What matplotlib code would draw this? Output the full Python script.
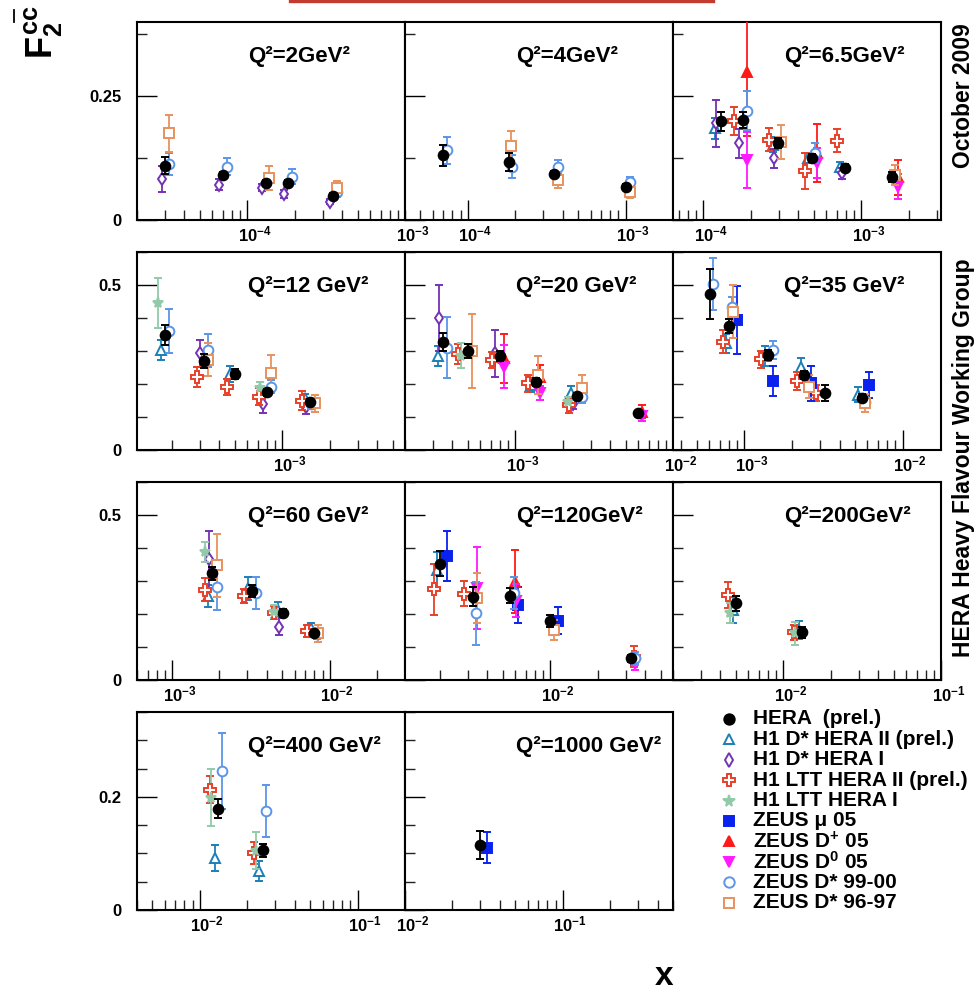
import numpy as np
import matplotlib
matplotlib.use("Agg")
import matplotlib.pyplot as plt
from matplotlib.ticker import LogLocator, MultipleLocator, NullFormatter, FuncFormatter
from matplotlib.lines import Line2D

plt.rcParams["font.family"] = ["Liberation Sans", "DejaVu Sans"]
plt.rcParams["font.weight"] = "bold"
plt.rcParams["mathtext.fontset"] = "custom"
plt.rcParams["mathtext.rm"] = "Liberation Sans:bold"
plt.rcParams["mathtext.it"] = "Liberation Sans:bold"
plt.rcParams["mathtext.bf"] = "Liberation Sans:bold"
plt.rcParams["mathtext.sf"] = "Liberation Sans:bold"

# ---------------------------------------------------------------- bins / axes
Q2_BINS = [2, 4, 6.5, 12, 20, 35, 60, 120, 200, 400, 1000]
Q2_LABELS = ["Q²=2GeV²", "Q²=4GeV²", "Q²=6.5GeV²", "Q²=12 GeV²", "Q²=20 GeV²",
             "Q²=35 GeV²", "Q²=60 GeV²", "Q²=120GeV²", "Q²=200GeV²",
             "Q²=400 GeV²", "Q²=1000 GeV²"]
X_RANGES = [(2e-5, 1e-3), (4e-5, 2e-3), (6.45e-5, 3.2e-3),
            (1.2e-4, 6e-3), (2e-4, 1e-2), (3.55e-4, 1.75e-2),
            (6e-4, 3e-2), (1.2e-3, 6e-2), (2e-3, 1e-1),
            (4e-3, 2e-1), (1e-2, 5e-1)]
Y_MAX_ROW = [0.4, 0.6, 0.6, 0.35]
Y_MAJOR_ROW = [0.25, 0.5, 0.5, 0.2]
Y_MINOR_ROW = [0.125, 0.1, 0.1, 0.05]

# ---------------------------------------------------------------- data (x, F2cc, error)
HERA = {
    2: [(3.0e-5, 0.110, 0.017), (7.05e-5, 0.0915, 0.006), (1.31e-4, 0.074, 0.006),
        (1.82e-4, 0.074, 0.006), (3.52e-4, 0.049, 0.005)],
    4: [(7.0e-5, 0.131, 0.021), (1.82e-4, 0.117, 0.018), (3.54e-4, 0.092, 0.006),
        (1.0e-3, 0.067, 0.005)],
    6.5: [(1.29e-4, 0.199, 0.020), (1.78e-4, 0.202, 0.017), (2.96e-4, 0.156, 0.010),
          (4.92e-4, 0.125, 0.008), (7.85e-4, 0.106, 0.007), (1.57e-3, 0.086, 0.010)],
    12: [(1.81e-4, 0.348, 0.030), (3.21e-4, 0.270, 0.020), (5.0e-4, 0.230, 0.015),
         (8.0e-4, 0.175, 0.010), (1.49e-3, 0.145, 0.010)],
    20: [(3.5e-4, 0.328, 0.028), (5.0e-4, 0.300, 0.020), (8.0e-4, 0.285, 0.015),
         (1.35e-3, 0.205, 0.012), (2.48e-3, 0.164, 0.010), (6.0e-3, 0.111, 0.008)],
    35: [(6.07e-4, 0.473, 0.076), (8.04e-4, 0.376, 0.020), (1.42e-3, 0.288, 0.015),
         (2.4e-3, 0.227, 0.012), (3.25e-3, 0.172, 0.024), (5.55e-3, 0.159, 0.010)],
    60: [(1.80e-3, 0.323, 0.020), (3.23e-3, 0.271, 0.018), (5.03e-3, 0.204, 0.010),
         (7.98e-3, 0.141, 0.008)],
    120: [(2.0e-3, 0.352, 0.038), (3.22e-3, 0.253, 0.030), (5.53e-3, 0.255, 0.023),
          (1.0e-2, 0.180, 0.018), (3.26e-2, 0.066, 0.010)],
    200: [(5.05e-3, 0.232, 0.022), (1.32e-2, 0.144, 0.018)],
    400: [(1.31e-2, 0.179, 0.017), (2.53e-2, 0.1055, 0.012)],
    1000: [(2.99e-2, 0.115, 0.024)],
}

H1_DSTAR_HERA2 = {
    6.5: [(1.19e-4, 0.185, 0.022), (2.75e-4, 0.152, 0.015), (4.63e-4, 0.125, 0.010),
          (7.36e-4, 0.108, 0.010)],
    12: [(1.70e-4, 0.303, 0.031), (4.69e-4, 0.230, 0.025), (1.40e-3, 0.157, 0.012)],
    20: [(3.25e-4, 0.285, 0.030), (1.26e-3, 0.197, 0.020), (2.25e-3, 0.174, 0.020)],
    35: [(7.66e-4, 0.323, 0.030), (1.35e-3, 0.285, 0.030), (2.28e-3, 0.2505, 0.028),
         (5.24e-3, 0.167, 0.023)],
    60: [(1.70e-3, 0.2545, 0.033), (3.05e-3, 0.278, 0.035), (4.72e-3, 0.212, 0.025),
         (7.57e-3, 0.157, 0.015)],
    120: [(1.92e-3, 0.333, 0.054)],
    200: [(4.79e-3, 0.212, 0.040), (1.25e-2, 0.1515, 0.027)],
    400: [(1.25e-2, 0.0925, 0.023), (2.39e-2, 0.069, 0.018)],
}

H1_DSTAR_HERA1 = {
    2: [(2.87e-5, 0.083, 0.027), (6.65e-5, 0.071, 0.011), (1.24e-4, 0.065, 0.007),
        (1.71e-4, 0.0525, 0.009), (3.35e-4, 0.037, 0.005)],
    6.5: [(1.20e-4, 0.195, 0.047), (1.68e-4, 0.155, 0.029), (2.81e-4, 0.125, 0.019),
          (7.55e-4, 0.094, 0.012)],
    12: [(3.03e-4, 0.293, 0.040), (7.55e-4, 0.139, 0.026), (1.42e-3, 0.131, 0.023)],
    20: [(3.30e-4, 0.399, 0.100), (7.45e-4, 0.293, 0.072), (2.34e-3, 0.139, 0.015)],
    60: [(1.72e-3, 0.366, 0.087), (4.79e-3, 0.162, 0.025)],
    120: [(3.4e-2, 0.060, 0.015)],
}

H1_LTT_HERA2 = {
    6.5: [(1.57e-4, 0.200, 0.028), (2.62e-4, 0.162, 0.023), (4.42e-4, 0.099, 0.037),
          (7.0e-4, 0.160, 0.023)],
    12: [(2.89e-4, 0.222, 0.030), (4.47e-4, 0.192, 0.024), (7.13e-4, 0.162, 0.027),
         (1.34e-3, 0.150, 0.028)],
    20: [(4.32e-4, 0.291, 0.030), (7.16e-4, 0.273, 0.025), (1.2e-3, 0.202, 0.025),
         (2.2e-3, 0.136, 0.024)],
    35: [(7.3e-4, 0.328, 0.035), (1.27e-3, 0.275, 0.026), (2.15e-3, 0.209, 0.028),
         (2.85e-3, 0.174, 0.024)],
    60: [(1.62e-3, 0.273, 0.035), (2.87e-3, 0.2545, 0.020), (4.44e-3, 0.204, 0.020),
         (7.14e-3, 0.1495, 0.018)],
    120: [(1.82e-3, 0.275, 0.077), (2.85e-3, 0.261, 0.038), (3.4e-2, 0.071, 0.031)],
    200: [(4.46e-3, 0.258, 0.040), (1.17e-2, 0.144, 0.023)],
    400: [(1.16e-2, 0.213, 0.024), (2.21e-2, 0.101, 0.020)],
}

H1_LTT_HERA1 = {
    12: [(1.62e-4, 0.4465, 0.076), (7.26e-4, 0.187, 0.020)],
    20: [(4.53e-4, 0.285, 0.038), (2.17e-3, 0.146, 0.015)],
    60: [(1.62e-3, 0.389, 0.030), (4.44e-3, 0.207, 0.020)],
    200: [(4.6e-3, 0.202, 0.030), (1.19e-2, 0.141, 0.035)],
    400: [(1.17e-2, 0.1986, 0.050), (2.26e-2, 0.105, 0.032)],
}

ZEUS_MU05 = {
    35: [(8.95e-4, 0.394, 0.102), (1.53e-3, 0.209, 0.045), (2.64e-3, 0.202, 0.053),
         (6.12e-3, 0.197, 0.040)],
    120: [(2.2e-3, 0.376, 0.077), (6.2e-3, 0.227, 0.054), (1.12e-2, 0.180, 0.040)],
    1000: [(3.33e-2, 0.110, 0.027)],
}

ZEUS_DPLUS05 = {
    6.5: [(1.90e-4, 0.300, 0.130), (5.24e-4, 0.135, 0.058), (1.70e-3, 0.086, 0.035)],
    20: [(8.49e-4, 0.278, 0.074), (1.44e-3, 0.222, 0.035), (6.4e-3, 0.116, 0.020)],
    120: [(6.0e-3, 0.298, 0.096)],
}

ZEUS_DZERO05 = {
    6.5: [(1.90e-4, 0.121, 0.056), (5.24e-4, 0.115, 0.030), (1.70e-3, 0.067, 0.025)],
    20: [(8.49e-4, 0.2525, 0.065), (1.44e-3, 0.172, 0.021), (6.4e-3, 0.104, 0.015)],
    120: [(3.44e-3, 0.278, 0.124), (6.07e-3, 0.240, 0.050), (3.44e-2, 0.050, 0.020)],
}

ZEUS_DSTAR9900 = {
    2: [(3.19e-5, 0.113, 0.023), (7.41e-5, 0.108, 0.018), (1.91e-4, 0.0875, 0.015),
        (3.69e-4, 0.057, 0.010)],
    4: [(7.4e-5, 0.141, 0.027), (1.92e-4, 0.108, 0.024), (3.73e-4, 0.108, 0.013),
        (1.07e-3, 0.077, 0.010)],
    6.5: [(1.90e-4, 0.221, 0.040), (5.12e-4, 0.135, 0.020), (1.6e-3, 0.089, 0.010)],
    12: [(1.92e-4, 0.361, 0.066), (3.37e-4, 0.303, 0.050), (8.5e-4, 0.192, 0.020),
         (1.52e-3, 0.139, 0.015)],
    20: [(3.71e-4, 0.310, 0.093), (2.64e-3, 0.162, 0.020)],
    35: [(6.37e-4, 0.503, 0.080), (8.43e-4, 0.434, 0.030), (1.51e-3, 0.303, 0.028),
         (5.83e-3, 0.146, 0.015)],
    60: [(1.92e-3, 0.281, 0.070), (3.4e-3, 0.263, 0.048), (8.27e-3, 0.138, 0.015)],
    120: [(3.39e-3, 0.202, 0.096), (5.9e-3, 0.263, 0.048), (3.44e-2, 0.066, 0.020)],
    400: [(1.38e-2, 0.2457, 0.068), (2.63e-2, 0.175, 0.046)],
}

ZEUS_DSTAR9697 = {
    2: [(3.19e-5, 0.175, 0.037), (1.38e-4, 0.0855, 0.024), (3.69e-4, 0.064, 0.015)],
    4: [(1.89e-4, 0.150, 0.030), (3.73e-4, 0.081, 0.016), (1.07e-3, 0.057, 0.012)],
    6.5: [(3.1e-4, 0.158, 0.034), (1.64e-3, 0.091, 0.020)],
    12: [(3.37e-4, 0.273, 0.050), (8.5e-4, 0.234, 0.053), (1.61e-3, 0.141, 0.025)],
    20: [(5.3e-4, 0.301, 0.112), (1.40e-3, 0.227, 0.058), (2.64e-3, 0.187, 0.039)],
    35: [(8.53e-4, 0.419, 0.080), (2.55e-3, 0.192, 0.034), (5.83e-3, 0.143, 0.028)],
    60: [(1.92e-3, 0.348, 0.095), (8.47e-3, 0.141, 0.026)],
    120: [(3.44e-3, 0.2475, 0.076), (1.06e-2, 0.1515, 0.030)],
}

# name, data, marker, colour, filled, marker size
SERIES = [
    ("H1 D* HERA II (prel.)", H1_DSTAR_HERA2, "^", "#1c7fb6", False, 7.0),
    ("H1 D* HERA I", H1_DSTAR_HERA1, "d", "#7432b4", False, 6.5),
    ("H1 LTT HERA II (prel.)", H1_LTT_HERA2, "P", "#e8402a", False, 8.0),
    ("H1 LTT HERA I", H1_LTT_HERA1, "*", "#92caa9", True, 8.0),
    ("ZEUS μ 05", ZEUS_MU05, "s", "#0a22ee", True, 6.5),
    ("ZEUS D$^{+}$ 05", ZEUS_DPLUS05, "^", "#ff1a1a", True, 6.5),
    ("ZEUS D$^{0}$ 05", ZEUS_DZERO05, "v", "#ff1aff", True, 6.5),
    ("ZEUS D* 99-00", ZEUS_DSTAR9900, "o", "#5b95e8", False, 7.0),
    ("ZEUS D* 96-97", ZEUS_DSTAR9697, "s", "#e8925e", False, 7.0),
]
HERA_STYLE = ("HERA  (prel.)", HERA, "o", "black", True, 7.0)

# ---------------------------------------------------------------- layout (pixels)
FIG_W, FIG_H = 980, 994
COL_LEFT = [137, 405, 673]
ROW_TOP = [22, 252, 482, 712]
PANEL_W, PANEL_H = 268, 198

fig = plt.figure(figsize=(FIG_W / 100, FIG_H / 100), dpi=100)


def draw_series(ax, style, q2, z):
    name, data, marker, color, filled, ms = style
    pts = data.get(q2)
    if not pts:
        return
    x, y, e = (np.array(v) for v in zip(*pts))
    ax.errorbar(x, y, yerr=e, fmt=marker, color=color, ms=ms,
                mfc=color if filled else "white", mec=color, mew=1.4,
                elinewidth=1.3, capsize=2.8, capthick=1.3, zorder=z)


def y_fmt(v, _):
    return "0" if abs(v) < 1e-9 else f"{v:g}"


for i, q2 in enumerate(Q2_BINS):
    r, c = divmod(i, 3)
    left = COL_LEFT[c] / FIG_W
    bottom = 1 - (ROW_TOP[r] + PANEL_H) / FIG_H
    ax = fig.add_axes([left, bottom, PANEL_W / FIG_W, PANEL_H / FIG_H])

    for k, style in enumerate(SERIES):
        draw_series(ax, style, q2, 3 + k * 0.1)
    draw_series(ax, HERA_STYLE, q2, 6)

    xmin, xmax = X_RANGES[i]
    ax.set_xscale("log")
    ax.set_xlim(xmin, xmax)
    ax.set_ylim(0, Y_MAX_ROW[r])

    ax.xaxis.set_major_locator(LogLocator(base=10, numticks=30))
    ax.xaxis.set_minor_locator(LogLocator(base=10, subs=np.arange(2, 10), numticks=30))
    ax.xaxis.set_major_formatter(NullFormatter())
    ax.xaxis.set_minor_formatter(NullFormatter())
    ax.yaxis.set_major_locator(MultipleLocator(Y_MAJOR_ROW[r]))
    ax.yaxis.set_minor_locator(MultipleLocator(Y_MINOR_ROW[r]))

    ax.tick_params(which="major", direction="in", length=14.5, width=1.0,
                   top=False, right=False, color="black")
    ax.tick_params(which="minor", direction="in", length=7.2, width=1.0,
                   top=False, right=False, color="#222222")
    if c == 0:
        ax.yaxis.set_major_formatter(FuncFormatter(y_fmt))
        ax.tick_params(axis="y", which="major", labelsize=12, pad=11)
    else:
        ax.tick_params(axis="y", labelleft=False)
    for sp in ax.spines.values():
        sp.set_linewidth(1.5)

    # decade labels, with the "10" centred on its tick
    lo = int(np.floor(np.log10(xmin)))
    hi = int(np.ceil(np.log10(xmax)))
    for ex in range(lo, hi + 1):
        d = 10.0 ** ex
        if xmin * 0.999 <= d <= xmax * 1.001:
            ax.annotate(rf"$10^{{{ex}}}$", xy=(d, 0), xycoords=ax.get_xaxis_transform(),
                        xytext=(-6.8, -3), textcoords="offset points",
                        ha="left", va="top", fontsize=12, annotation_clip=False)

    ax.text(0.414, 0.80, Q2_LABELS[i], transform=ax.transAxes, fontsize=16,
            fontweight="bold", va="baseline", ha="left")

# ---------------------------------------------------------------- legend
leg = fig.add_axes([0, 0, 1, 1], facecolor="none")
leg.set_xlim(0, FIG_W)
leg.set_ylim(FIG_H, 0)
leg.axis("off")
legend_rows = [HERA_STYLE] + SERIES
for j, (name, _, marker, color, filled, ms) in enumerate(legend_rows):
    yrow = 719 + j * 20.4
    leg.plot([729], [yrow], marker=marker, ms=ms + 0.5, color=color,
             mfc=color if filled else "white", mec=color, mew=1.4, ls="none")
    leg.text(753, yrow, name, fontsize=15, fontweight="bold", va="center", ha="left")

# ---------------------------------------------------------------- titles / decorations
fig.text(43 / FIG_W, 1 - 32 / FIG_H, r"$F_{2}^{cc}$", rotation=90, fontsize=26,
         ha="center", va="center")
fig.add_artist(Line2D([14 / FIG_W, 14 / FIG_W], [1 - 10 / FIG_H, 1 - 22 / FIG_H],
                      color="black", lw=1.3))
fig.add_artist(Line2D([290 / FIG_W, 713 / FIG_W], [1 - 1.2 / FIG_H, 1 - 1.2 / FIG_H],
                      color="#c23b2e", lw=2.4))
fig.text(963 / FIG_W, 1 - 96 / FIG_H, "October 2009", rotation=90, fontsize=16.5,
         fontweight="bold", ha="center", va="center")
fig.text(963 / FIG_W, 1 - 458 / FIG_H, "HERA Heavy Flavour Working Group", rotation=90,
         fontsize=16.5, fontweight="bold", ha="center", va="center")
fig.text(664 / FIG_W, 1 - 992 / FIG_H, "x", fontsize=24, fontweight="bold",
         ha="center", va="bottom")

fig.savefig("out.png", dpi=100)
